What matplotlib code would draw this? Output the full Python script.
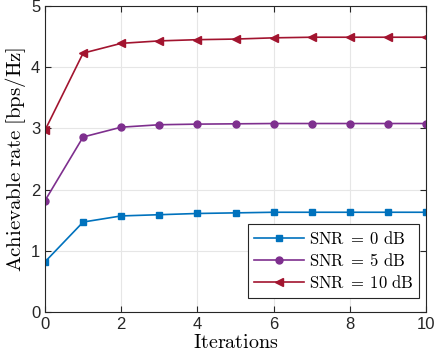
import matplotlib.pyplot as plt
import numpy as np

plt.rcParams['mathtext.fontset'] = 'cm'

iterations = np.arange(0, 11)
rate_0db = [0.82, 1.47, 1.57, 1.59, 1.61, 1.62, 1.63, 1.63, 1.63, 1.63, 1.63]
rate_5db = [1.82, 2.86, 3.02, 3.06, 3.07, 3.075, 3.08, 3.08, 3.08, 3.08, 3.08]
rate_10db = [2.97, 4.23, 4.39, 4.43, 4.45, 4.46, 4.48, 4.49, 4.49, 4.49, 4.49]

fig = plt.figure(figsize=(4.34, 3.6), dpi=100)
ax = fig.add_axes([0.1037, 0.1333, 0.878, 0.85])

ax.plot(iterations, rate_0db, color='#0072BD', marker='s', markersize=4.5, lw=1.2,
        label=r'$\mathrm{SNR}\;=\;0\ \mathrm{dB}$')
ax.plot(iterations, rate_5db, color='#7E2F8E', marker='o', markersize=5, lw=1.2,
        label=r'$\mathrm{SNR}\;=\;5\ \mathrm{dB}$')
ax.plot(iterations, rate_10db, color='#A2142F', marker='<', markersize=6, lw=1.2,
        label=r'$\mathrm{SNR}\;=\;10\ \mathrm{dB}$')

ax.set_xlim(0, 10)
ax.set_ylim(0, 5)
ax.set_xticks(range(0, 11, 2))
ax.set_yticks(range(0, 6))
ax.grid(True, color='#e6e6e6', lw=0.8)
ax.set_axisbelow(True)
ax.tick_params(direction='in', length=4, labelsize=12, colors='#262626', top=True, right=True,
               labeltop=False, labelright=False)
for lbl in ax.get_xticklabels() + ax.get_yticklabels():
    lbl.set_family('Liberation Sans')
for s in ax.spines.values():
    s.set_color('#262626')
    s.set_linewidth(0.8)

ax.set_xlabel(r'$\mathrm{Iterations}$', fontsize=14.5, labelpad=1)
ax.set_ylabel(r'$\mathrm{Achievable\ rate\ [bps/Hz]}$', fontsize=15, labelpad=2)

leg = ax.legend(loc='lower right', bbox_to_anchor=(0.982, 0.046), borderaxespad=0,
                fontsize=12, fancybox=False, edgecolor='#262626', framealpha=1,
                handlelength=3.0, borderpad=0.35, labelspacing=0.25, handletextpad=0.3)
leg.get_frame().set_linewidth(0.8)

plt.savefig('out.png', dpi=100)
